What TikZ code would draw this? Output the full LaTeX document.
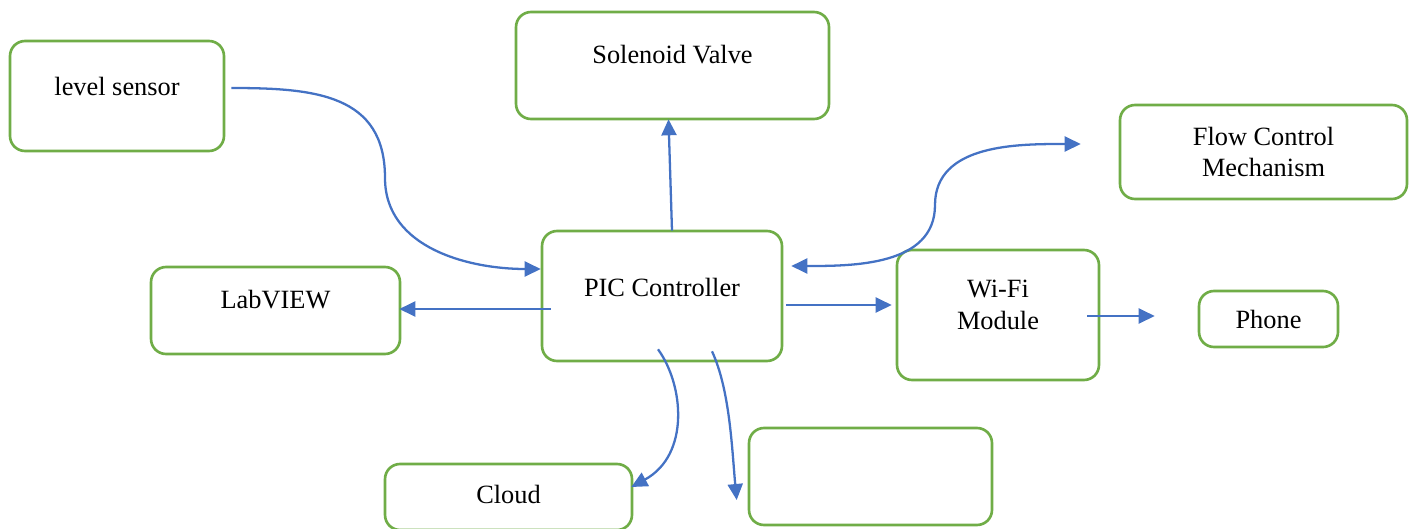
\documentclass[tikz,border=0pt]{standalone}
\usepackage{fontspec}
\setmainfont{Liberation Serif}
\usetikzlibrary{arrows.meta,positioning,calc}

\definecolor{boxgreen}{RGB}{112,173,71}
\definecolor{arrowblue}{RGB}{68,114,196}

\tikzset{
    blk/.style={rectangle, draw=boxgreen, line width=1.5pt, rounded corners=0.3cm, fill=white},
    lbl/.style={font=\fontsize{15}{18}\selectfont, align=center},
    flow/.style={draw=arrowblue, line width=1.3pt, -{Triangle[length=0.32cm,width=0.3cm]}},
    biflow/.style={draw=arrowblue, line width=1.3pt, {Triangle[length=0.32cm,width=0.3cm]}-{Triangle[length=0.32cm,width=0.3cm]}}
}

\begin{document}
\begin{tikzpicture}[x=0.02cm, y=-0.02cm]
    \useasboundingbox (0,0) rectangle (1410,528);

    % Boxes
    \node[blk, minimum width=4.28cm, minimum height=2.2cm, label={[lbl, yshift=0.2cm]center:level sensor}] (sensor) at (117,96) {};
    \node[blk, minimum width=6.26cm, minimum height=2.14cm, label={[lbl, yshift=0.21cm]center:Solenoid Valve}] (valve) at (672.5,65.5) {};
    \node[blk, minimum width=5.74cm, minimum height=1.88cm, label={[lbl]center:Flow Control\\Mechanism}] (flowctl) at (1263.5,152) {};
    \node[blk, minimum width=4.98cm, minimum height=1.74cm, label={[lbl, yshift=0.21cm]center:LabVIEW}] (labview) at (275.5,310.5) {};
    \node[blk, minimum width=4.8cm, minimum height=2.6cm, label={[lbl, yshift=0.18cm]center:PIC Controller}] (pic) at (662,296) {};
    \node[blk, minimum width=4.04cm, minimum height=2.6cm, label={[lbl, yshift=0.2cm]center:Wi-Fi\\Module}] (wifi) at (998,315) {};
    \node[blk, minimum width=2.78cm, minimum height=1.12cm, label={[lbl]center:Phone}] (phone) at (1268.5,319) {};
    \node[blk, minimum width=4.94cm, minimum height=1.32cm, label={[lbl, yshift=0.06cm]center:Cloud}] (cloud) at (508.5,497) {};
    \node[blk, minimum width=4.86cm, minimum height=1.94cm] (empty) at (870.5,476.5) {};

    % Bends of the curved connectors
    \coordinate (sensorbend) at (385,178);
    \coordinate (flowbend) at (935,205);

    % Connectors
    \draw[flow] ($(sensor.east)+(6,-8)$) to[out=0, in=90, looseness=1.2] (sensorbend) to[out=-90, in=180] ($(pic.west)+(0,-27)$);
    \draw[flow] ($(pic.north)+(10,1)$) -- ($(valve.south)+(-4,-1)$);
    \draw[biflow] ($(pic.east)+(8,-30)$) to[out=0, in=-90] (flowbend) to[out=90, in=180] ($(flowctl.west)+(-38,-8)$);
    \draw[flow] ($(pic.west)+(10,13)$) -- ($(labview.east)+(-2,-1.5)$);
    \draw[flow] ($(pic.east)+(3,9)$) -- ($(wifi.west)+(-4,-10)$);
    \draw[flow] ($(wifi.east)+(-13,1)$) -- ($(phone.west)+(-43,-3)$);
    \draw[flow] ($(pic.south)+(-4,-13)$) .. controls (684,385) and (690,455) .. ($(cloud.east)+(-2,-10)$);
    \draw[flow] ($(pic.south)+(50,-11)$) .. controls (730,390) and (732,450) .. ($(empty.west)+(-11,23.5)$);
\end{tikzpicture}
\end{document}
